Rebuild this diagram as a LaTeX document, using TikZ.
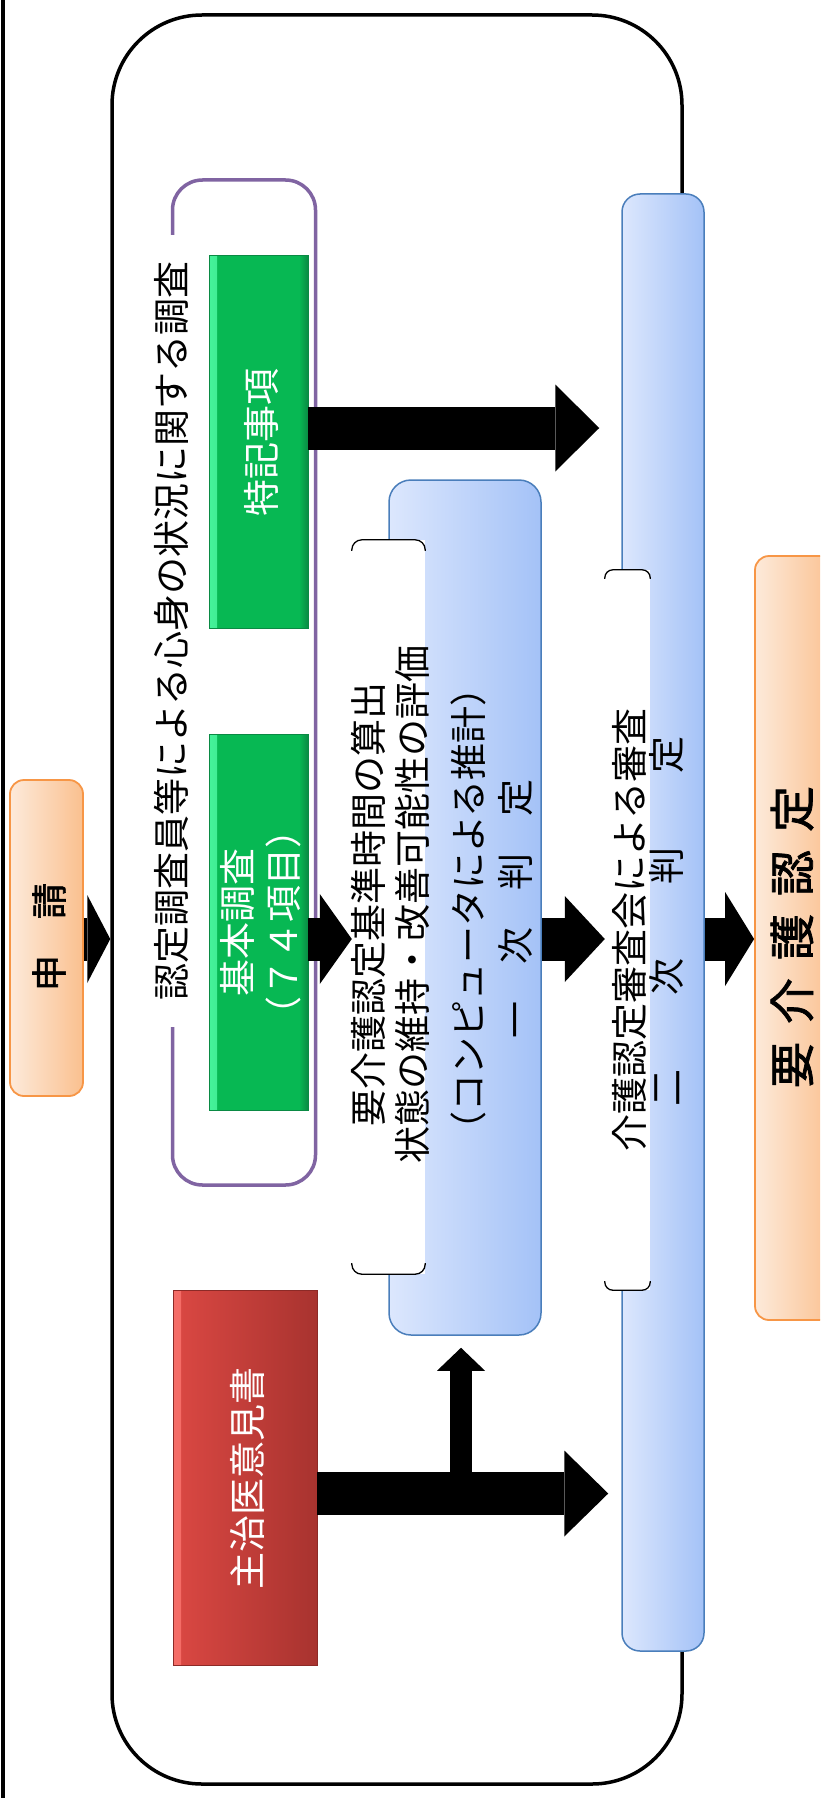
\documentclass[tikz,border=0pt]{standalone}
\usepackage{fontspec}
\setmainfont{Noto Sans CJK JP}
\newfontfamily\jpbold[FakeBold=1.6]{Noto Sans CJK JP}
\usetikzlibrary{arrows.meta,calc}
\definecolor{orgL}{HTML}{FDEADA}
\definecolor{orgR}{HTML}{FAC08F}
\definecolor{orgB}{HTML}{F79646}
\definecolor{bluL}{HTML}{DCE7FD}
\definecolor{bluR}{HTML}{A4C2F7}
\definecolor{bluB}{HTML}{4A7EBB}
\definecolor{grn}{HTML}{07B853}
\definecolor{grnL}{HTML}{45F29A}
\definecolor{grnD}{HTML}{0A8A44}
\definecolor{redL}{HTML}{DB4843}
\definecolor{redR}{HTML}{A8332F}
\definecolor{redHL}{HTML}{F56E68}
\definecolor{redB}{HTML}{8C2A27}
\definecolor{purp}{HTML}{8064A2}
\begin{document}
\begin{tikzpicture}[x=1pt,y=-1pt,
  framebox/.style={draw, line width=3.5pt, rounded corners=90pt, minimum width=570pt, minimum height=1769pt},
  purplebox/.style={draw=purp, line width=3.5pt, rounded corners=30pt, minimum width=143pt, minimum height=1005pt},
  vt/.style={rotate=90, align=center, inner sep=0pt, font=\fontsize{37pt}{44pt}\selectfont},
  plabel/.style={vt, fill=white, inner xsep=27pt, inner ysep=3pt},
  greenbox/.style={fill=grn, draw=grnD, line width=0.8pt, minimum width=99pt,
    path picture={
      \fill[left color=grnL, right color=grn] (path picture bounding box.south west) rectangle ([xshift=8pt]path picture bounding box.north west);
      \fill[left color=grn, right color=grnD] ([xshift=-9pt]path picture bounding box.south east) rectangle (path picture bounding box.north east);
    }},
  redbox/.style={left color=redL, right color=redR, draw=redB, line width=0.8pt,
    path picture={
      \fill[left color=redHL, right color=redL] (path picture bounding box.south west) rectangle ([xshift=8pt]path picture bounding box.north west);
    }},
  bluebox/.style={left color=bluL, right color=bluR, draw=bluB, line width=1.5pt, rounded corners=22pt},
  orangebox/.style={left color=orgL, right color=orgR, draw=orgB, line width=1.8pt, rounded corners=14pt},
  textbox/.style={fill=white, inner sep=0pt},
  bracket/.style={draw=black, line width=1.3pt, rounded corners=10pt},
  blk/.style 2 args={line width=43pt, -{Triangle[length=#1, width=#2, line width=0pt]}},
  thinblk/.style 2 args={line width=22pt, -{Triangle[length=#1, width=#2, line width=0pt]}}
]
\useasboundingbox (0,0) rectangle (820,1798);
\clip (0,0) rectangle (820,1798);
\fill[white] (0,0) rectangle (820,1798);
\draw[line width=4pt] (2.5,0) -- (2.5,1798);

% outer frame
\node[framebox] (frame) at (397,899.5) {};

% survey group
\node[purplebox] (purp) at (244,682.5) {};
\node[plabel] (plab) at (171,631) {認定調査員等による心身の状況に関する調査};

\node[greenbox, minimum height=373pt] (tokki) at (258.5,441.5) {};
\node[vt, text=white] (tokkiT) at (261,442) {特記事項};
\node[greenbox, minimum height=376pt] (kihon) at (258.5,922) {};
\node[vt, text=white, font=\fontsize{37pt}{46pt}\selectfont] (kihonT) at (261,922) {基本調査\\（７４項目）};

\node[redbox, minimum width=144pt, minimum height=375pt] (shuji) at (245,1477.5) {};
\node[vt, text=white] (shujiT) at (247,1478) {主治医意見書};

% first judgement
\node[bluebox, minimum width=152pt, minimum height=855pt] (blue1) at (465,907.5) {};
\node[textbox, minimum width=73pt, minimum height=734pt] (t1) at (388.5,907) {};
\draw[bracket] ([yshift=-11pt]t1.north west) -- (t1.north west) -- (t1.north east) -- ([yshift=-11pt]t1.north east);
\draw[bracket] ([yshift=11pt]t1.south west) -- (t1.south west) -- (t1.south east) -- ([yshift=11pt]t1.south east);
\node[vt] (t1T) at (390,904) {要介護認定基準時間の算出\\状態の維持・改善可能性の評価};
\node[vt, font=\fontsize{37pt}{47pt}\selectfont] (b1T) at (491.5,909) {（コンピュータによる推計）\\一　次　判　定};

% second judgement
\node[bluebox, rounded corners=18pt, minimum width=82pt, minimum height=1457pt] (blue2) at (663,922.5) {};
\node[textbox, minimum width=45pt, minimum height=720pt] (t2) at (627.5,930) {};
\draw[bracket, rounded corners=8pt] ([yshift=-9pt]t2.north west) -- (t2.north west) -- (t2.north east) -- ([yshift=-9pt]t2.north east);
\draw[bracket, rounded corners=8pt] ([yshift=9pt]t2.south west) -- (t2.south west) -- (t2.south east) -- ([yshift=9pt]t2.south east);
\node[vt] (t2T) at (630,930) {介護認定審査会による審査};
\node[vt] (b2T) at (667,921) {二　　次　　判　　定};

% application and result
\node[orangebox, minimum width=73pt, minimum height=316pt] (shin) at (46.5,938) {};
\node[vt, font=\fontsize{36pt}{44pt}\jpbold] (shinT) at (49,937) {申　請};
\node[orangebox, minimum width=80pt, minimum height=764pt] (youk) at (795,938) {};
\node[vt, font=\fontsize{46pt}{52pt}\jpbold] (youkT) at (792,937) {要\hspace{18pt}介\hspace{18pt}護\hspace{18pt}認\hspace{18pt}定};

% arrows
\coordinate (row) at (0,939);
\coordinate (row2) at (0,428);
\coordinate (row3) at (0,1493.5);
\coordinate (e5) at ($(blue2.west |- row2)+(-22,0)$);
\coordinate (e6) at ($(blue2.west |- row3)+(-13,0)$);
\coordinate (br) at (461,1493.5);
\coordinate (e7) at ($(br |- blue1.south)+(0,12)$);

\draw[blk={23pt}{88pt}] (shin.east |- row) -- (frame.west |- row);
\draw[blk={32pt}{90pt}] (kihon.east |- row) -- (t1.west |- row);
\draw[blk={40pt}{86pt}] (blue1.east |- row) -- (t2.west |- row);
\draw[blk={29pt}{94pt}] (blue2.east |- row) -- (youk.west |- row);
\draw[blk={44pt}{87pt}] (tokki.east |- row2) -- (e5);
\draw[thinblk={23pt}{48pt}] (br) -- (e7);
\draw[blk={44pt}{86pt}] (shuji.east |- row3) -- (e6);
\end{tikzpicture}
\end{document}
